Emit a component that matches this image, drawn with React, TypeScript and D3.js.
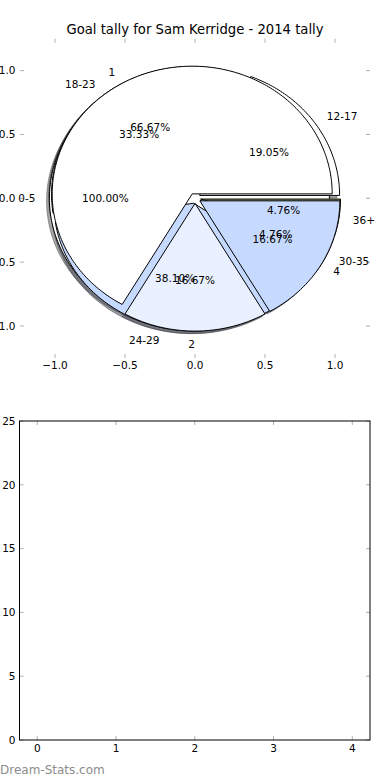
import React from 'react';
import * as d3 from 'd3';

const title = 'Goal tally for Sam Kerridge - 2014 tally';
const pieCLabels = ['0-5'];
const pieCValues = [1];
const pieALabels = ['12-17', '18-23', '24-29', '30-35', '36+'];
const pieAValues = [4, 7, 8, 1, 1];
const pieBLabels = ['1', '2', '4'];
const pieBValues = [4, 1, 1];
const palette = ['#ffffff', '#e9f0ff', '#c6d9ff', '#a8b97a', '#8a9a5b'];
const explode = 0.04;
const pieTicks = [-1, -0.5, 0, 0.5, 1];
const barXTicks = [0, 1, 2, 3, 4];
const barYTicks = [0, 5, 10, 15, 20, 25];
const footer = 'Dream-Stats.com';

const W = 390;
const H = 780;
const FONT = 'DejaVu Sans, sans-serif';
const TICK = '#b0b0b0';

const px = d3.scaleLinear().domain([-1.25, 1.25]).range([20, 370]);
const py = d3.scaleLinear().domain([-1.25, 1.25]).range([357.9, 38.7]);

const bx = d3.scaleLinear().domain([-0.225, 4.225]).range([19.5, 370]);
const by = d3.scaleLinear().domain([0, 25]).range([740, 421]);

const fmtTick = (v: number) => (v < 0 ? '\u2212' : '') + Math.abs(v).toFixed(1);

type W8 = {
  key: string;
  label: string;
  pct: number;
  t1: number;
  t2: number;
  cx: number;
  cy: number;
  color: string;
};

function buildPie(name: string, labels: string[], values: number[]): W8[] {
  const total = d3.sum(values);
  const arcs = d3
    .pie<number>()
    .sort(null)
    .startAngle(0)
    .endAngle(2 * Math.PI)(values);
  return arcs.map((a, i) => {
    const tm = (a.startAngle + a.endAngle) / 2;
    return {
      key: name + i,
      label: labels[i],
      pct: (values[i] / total) * 100,
      t1: a.startAngle,
      t2: a.endAngle,
      cx: explode * Math.cos(tm),
      cy: explode * Math.sin(tm),
      color: palette[i % palette.length],
    };
  });
}

const pies = [
  buildPie('C', pieCLabels, pieCValues),
  buildPie('A', pieALabels, pieAValues),
  buildPie('B', pieBLabels, pieBValues),
];
const allWedges = pies.flat();

const line = d3
  .line<[number, number]>()
  .x((p) => px(p[0]))
  .y((p) => py(p[1]));

function wedgePath(w: W8, dx: number, dy: number): string {
  const full = Math.abs(w.t2 - w.t1 - 2 * Math.PI) < 1e-9;
  const n = Math.max(4, Math.ceil(((w.t2 - w.t1) * 180) / Math.PI));
  const pts: [number, number][] = [];
  if (!full) pts.push([w.cx + dx, w.cy + dy]);
  for (let i = 0; i <= n; i++) {
    const t = w.t1 + ((w.t2 - w.t1) * i) / n;
    pts.push([w.cx + dx + Math.cos(t), w.cy + dy + Math.sin(t)]);
  }
  return (line(pts) || '') + 'Z';
}

function shade(c: string): string {
  const r = d3.rgb(c);
  return d3.rgb(r.r * 0.3, r.g * 0.3, r.b * 0.3).formatHex();
}

export default function App() {
  return (
    <svg width={W} height={H} style={{ position: 'absolute', left: 0, top: 0, background: '#fff' }}>
      <rect x={0} y={0} width={W} height={H} fill="#fff" />
      <text x={195} y={34} textAnchor="middle" fontFamily={FONT} fontSize={13.2} fill="#000">
        {title}
      </text>

      {/* pie axes ticks */}
      {pieTicks.map((t) => (
        <g key={'px' + t}>
          <line x1={px(t)} x2={px(t)} y1={38.7} y2={42.7} stroke={TICK} />
          <line x1={px(t)} x2={px(t)} y1={357.9} y2={353.9} stroke={TICK} />
          <text x={px(t)} y={369} textAnchor="middle" fontFamily={FONT} fontSize={10.5}>
            {fmtTick(t)}
          </text>
        </g>
      ))}
      {pieTicks.map((t) => (
        <g key={'py' + t}>
          <line x1={20} x2={24} y1={py(t)} y2={py(t)} stroke={TICK} />
          <line x1={370} x2={366} y1={py(t)} y2={py(t)} stroke={TICK} />
          <text x={15.5} y={py(t) + 3.8} textAnchor="end" fontFamily={FONT} fontSize={10.5}>
            {fmtTick(t)}
          </text>
        </g>
      ))}

      {/* shadows */}
      {allWedges.map((w) => (
        <path
          key={'s' + w.key}
          d={wedgePath(w, -0.02, -0.02)}
          fill={shade(w.color)}
          stroke={shade(w.color)}
          fillOpacity={0.5}
          strokeOpacity={0.5}
          strokeWidth={1}
        />
      ))}
      {/* wedges */}
      {allWedges.map((w) => (
        <path key={'w' + w.key} d={wedgePath(w, 0, 0)} fill={w.color} stroke="#000" strokeWidth={1} />
      ))}
      {/* texts */}
      {allWedges.map((w) => {
        const tm = (w.t1 + w.t2) / 2;
        const lx = w.cx + 1.1 * Math.cos(tm);
        const ly = w.cy + 1.1 * Math.sin(tm);
        const tx = w.cx + 0.6 * Math.cos(tm);
        const ty = w.cy + 0.6 * Math.sin(tm);
        return (
          <g key={'t' + w.key}>
            <text
              x={px(lx)}
              y={py(ly) + 3.8}
              textAnchor={lx > 0 ? 'start' : 'end'}
              fontFamily={FONT}
              fontSize={10.5}
            >
              {w.label}
            </text>
            <text x={px(tx)} y={py(ty) + 3.8} textAnchor="middle" fontFamily={FONT} fontSize={10.5}>
              {w.pct.toFixed(2) + '%'}
            </text>
          </g>
        );
      })}

      {/* bottom axes */}
      <rect x={bx(-0.225)} y={by(25)} width={bx(4.225) - bx(-0.225)} height={by(0) - by(25)} fill="#fff" />
      {barXTicks.map((t) => (
        <g key={'bx' + t}>
          <line x1={bx(t)} x2={bx(t)} y1={by(25)} y2={by(25) + 4} stroke={TICK} />
          <line x1={bx(t)} x2={bx(t)} y1={by(0)} y2={by(0) - 4} stroke={TICK} />
          <text x={bx(t)} y={752} textAnchor="middle" fontFamily={FONT} fontSize={10.5}>
            {String(t)}
          </text>
        </g>
      ))}
      {barYTicks.map((t) => (
        <g key={'by' + t}>
          <line x1={bx(-0.225)} x2={bx(-0.225) + 4} y1={by(t)} y2={by(t)} stroke={TICK} />
          <line x1={bx(4.225)} x2={bx(4.225) - 4} y1={by(t)} y2={by(t)} stroke={TICK} />
          <text x={15.5} y={by(t) + 3.8} textAnchor="end" fontFamily={FONT} fontSize={10.5}>
            {String(t)}
          </text>
        </g>
      ))}
      <rect
        x={bx(-0.225)}
        y={by(25)}
        width={bx(4.225) - bx(-0.225)}
        height={by(0) - by(25)}
        fill="none"
        stroke="#000"
        strokeWidth={1}
      />

      <text x={0} y={774} fontFamily={FONT} fontSize={12} fill="#8c8c8c">
        {footer}
      </text>
    </svg>
  );
}
